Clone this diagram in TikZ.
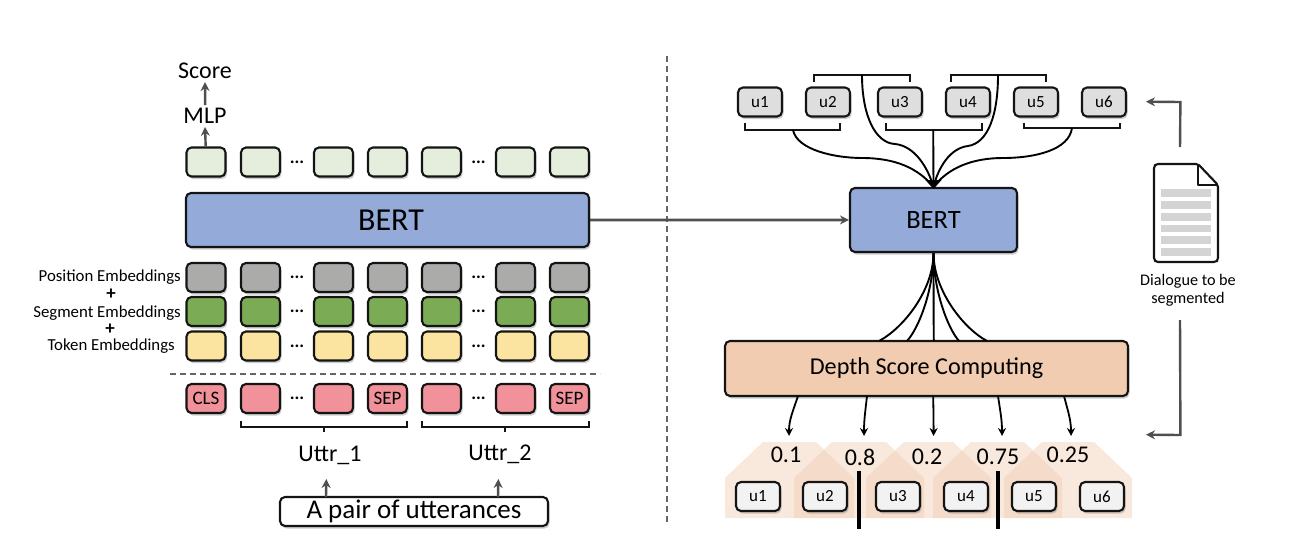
\documentclass[tikz,border=0pt]{standalone}
\usepackage{fontspec}
\setmainfont{Carlito}
\usetikzlibrary{arrows.meta,shadows}
\definecolor{linecol}{HTML}{141414}
\definecolor{grayarrow}{HTML}{4F4F4F}
\definecolor{outcol}{HTML}{E5EEDD}
\definecolor{bertcol}{HTML}{94ABD9}
\definecolor{poscol}{HTML}{ABABA9}
\definecolor{segcol}{HTML}{7CAB55}
\definecolor{tokcol}{HTML}{FBE3A0}
\definecolor{inpcol}{HTML}{F19199}
\definecolor{depthcol}{HTML}{F1CCB0}
\definecolor{housecol}{HTML}{F1CCB1}
\definecolor{utopcol}{HTML}{DEDEDE}
\definecolor{ubotcol}{HTML}{F2F2F2}
\definecolor{doccol}{HTML}{D4D4D4}
\tikzset{
  shade box/.style={draw=linecol,line width=2.1pt,rounded corners=5pt,drop shadow={opacity=.4,shadow xshift=1.5pt,shadow yshift=-2.5pt}},
  cell/.style={shade box,minimum width=39pt,minimum height=29pt,inner sep=0pt},
  ubox/.style={shade box,minimum width=44pt,minimum height=29pt,inner sep=0pt,font=\fontsize{17}{20}\selectfont},
  dots/.style={font=\bfseries\fontsize{18}{20}\selectfont,inner sep=0pt},
  emb/.style={font=\fontsize{16.8}{20}\selectfont,inner sep=0pt},
  txt/.style={font=\fontsize{24}{28}\selectfont,inner sep=3pt},
  garrow/.style={draw=grayarrow,line width=2.4pt,-{Stealth[length=9pt,width=9pt]}},
  barrow/.style={draw=black,line width=1.8pt,-{Stealth[length=8pt,width=8pt]}},
  brace/.style={draw=linecol,line width=2pt},
  fan/.style={draw=black,line width=1.9pt},
}
\begin{document}
\begin{tikzpicture}[x=1pt,y=-1pt]
  \useasboundingbox (0,0) rectangle (1289,535);
  \draw[gray!120,line width=1.3pt,dash pattern=on 6pt off 4pt] (667,56) -- (667,525);
  \draw[gray!120,line width=1.3pt,dash pattern=on 6pt off 4pt] (170,374) -- (600,374);
  \foreach \name/\col/\y in {o/outcol/162,p/poscol/277.5,s/segcol/311.5,t/tokcol/346,c/inpcol/398.5}{
    \foreach \x [count=\i] in {206,260.5,333.5,387.5,441.5,515.5,569.5}
      \node[cell,fill=\col] (\name\i) at (\x,\y) {};
    \node[dots] (\name dl) at (297,\y) {...};
    \node[dots] (\name dr) at (478.5,\y) {...};
  }
  \node[font=\fontsize{19}{22}\selectfont] (cls) at (c1) {CLS};
  \node[font=\fontsize{19}{22}\selectfont] (sepa) at (c4) {SEP};
  \node[font=\fontsize{19}{22}\selectfont] (sepb) at (c7) {SEP};
  \node[txt] (score) at (205,71) {Score};
  \node[txt] (mlp) at (205,116) {MLP};
  \draw[garrow] ([xshift=.2pt]mlp.north) -- (score.south);
  \draw[garrow] ([xshift=-.3pt]o1.north) -- (mlp.south);
  \node[shade box,fill=bertcol,minimum width=403pt,minimum height=54pt,font=\fontsize{32}{38}\selectfont] (bertl) at (387.5,220) {\hspace{7pt}BERT};
  \node[emb,anchor=east] (pos) at (181,277) {Position Embeddings};
  \node[emb,anchor=east] (seg) at (181,313) {Segment Embeddings};
  \node[emb,anchor=east] (tok) at (175,346) {Token Embeddings};
  \node[font=\bfseries\fontsize{19}{22}\selectfont,inner sep=0pt] (plusa) at (111,294) {+};
  \node[font=\bfseries\fontsize{19}{22}\selectfont,inner sep=0pt] (plusb) at (110,329) {+};
  \draw[brace] (241,421) -- (241,427) -- (407,427) -- (407,421) (324,427) -- (324,432);
  \draw[brace] (422,421) -- (422,427) -- (589,427) -- (589,421) (505,427) -- (505,432);
  \node[txt] (uone) at (330,455) {Uttr\_1};
  \node[txt] (utwo) at (500,454) {Uttr\_2};
  \node[shade box,fill=white,minimum width=268pt,minimum height=29pt,inner sep=0pt,font=\fontsize{27}{31}\selectfont] (pair) at (414,511.5) {A pair of utterances};
  \coordinate (pairl) at (326,497);
  \coordinate (pairr) at (498,497);
  \draw[garrow] (pairl) -- (326.3,479);
  \draw[garrow] (pairr) -- (498.3,479);
  \node[shade box,fill=bertcol,minimum width=167pt,minimum height=64pt,font=\fontsize{26.5}{31}\selectfont] (bertr) at (933.5,220) {BERT};
  \draw[garrow,line width=2.8pt] (bertl.east) -- ([yshift=.05pt]bertr.west);
  \foreach \x [count=\i] in {760,828,900,968,1036,1104}
    \node[ubox,fill=utopcol] (top\i) at (\x,102) {u\i};
  \draw[brace] (745,123) -- (745,130) -- (840,130) -- (840,123);
  \draw[brace] (886,123) -- (886,130) -- (982,130) -- (982,123);
  \draw[brace] (1024,123) -- (1024,128) -- (1120,128) -- (1120,123);
  \draw[brace] (814,82) -- (814,75) -- (910,75) -- (910,82);
  \draw[brace] (951,82) -- (951,75) -- (1046,75) -- (1046,82);
  \coordinate (ba) at (793,130);
  \coordinate (bb) at (862,75);
  \coordinate (bc) at (933.2,130);
  \coordinate (bd) at (998,75);
  \coordinate (be) at (1072,128);
  \draw[fan] (ba) .. controls (797,150) and (835,158) .. (862,158) .. controls (895,158) and (918,168) .. (bertr.north);
  \draw[fan] (bb) .. controls (862,115) and (875,143) .. (895,144) .. controls (915,146) and (928,168) .. (bertr.north);
  \draw[fan] (bc) -- (bertr.north);
  \draw[fan] (bd) .. controls (998,115) and (988,143) .. (968,146) .. controls (950,148) and (938,168) .. (bertr.north);
  \draw[fan] (be) .. controls (1069,150) and (1035,158) .. (1003,158) .. controls (972,158) and (948,168) .. (bertr.north);
  \fill[black] (925.5,180) -- (941.5,180) -- (933.5,189) -- cycle;
  \node[shade box,fill=depthcol,minimum width=403pt,minimum height=55pt,font=\fontsize{24.2}{29}\selectfont] (depth) at (926.5,368.5) {Depth Score Computing\hspace{12pt}};
  \foreach \x [count=\i] in {879,907,933.8,959,987}{
    \coordinate (dt\i) at (\x,341);
    \draw[fan] (bertr.south) .. controls (933.5,290) and ({933.5+(\x-933.5)*.55},328) .. (dt\i);
  }
  \foreach \a/\b [count=\i] in {798/789,867/864,933.2/933.6,998/1002,1064/1071}{
    \coordinate (ds\i) at (\a,396);
    \coordinate (de\i) at (\b,436);
    \draw[barrow] (ds\i) .. controls ({\a+(\b-\a)*.6},412) and (\b,420) .. (de\i);
  }
  \foreach \l/\r in {725/854,794/924,866/991,933/1062,1004/1132}
    \fill[housecol,opacity=.45] (\l,478) -- (\l+38,442) -- (\r-38,442) -- (\r,478) -- (\r,518) -- (\l,518) -- cycle;
  \foreach \x/\y/\v/\n in {786/455/0.1/va,860/457/0.8/vb,927/457/0.2/vc,998/457/0.75/vd,1068/455/0.25/ve}
    \node[font=\fontsize{24}{28}\selectfont,inner sep=0pt] (\n) at (\x,\y) {\v};
  \foreach \x [count=\i] in {758,825,898,966,1034,1102}
    \node[ubox,fill=ubotcol] (bot\i) at (\x,496.5) {u\i};
  \draw[black,line width=3.4pt] (859,471) -- (859,529);
  \draw[black,line width=3.4pt] (998,471) -- (998,529);
  \draw[linecol,line width=2.1pt,line join=round,fill=white,rounded corners=2pt] (1198,164) -- (1156,164) -- (1154,166) -- (1154,260) -- (1156,262) -- (1216,262) -- (1218,260) -- (1218,185) -- cycle;
  \draw[linecol,line width=2.1pt,line join=round] (1198,164) -- (1198,185) -- (1218,185);
  \foreach \y in {189,201,213,224.5,236,248}
    \fill[doccol] (1161,\y) rectangle (1211,\y+7.5);
  \node[align=center,font=\fontsize{16.2}{18}\selectfont,inner sep=0pt] (doclabel) at (1188,290) {Dialogue to be\\segmented};
  \coordinate (docup) at (1180,147);
  \coordinate (docdown) at (1180,320);
  \coordinate (uin) at (1146,102);
  \coordinate (uout) at (1146,435);
  \draw[garrow] (docup) -- (1180.4,102) -- ([yshift=.3pt]uin);
  \draw[garrow] (docdown) -- (1180.4,435) -- ([yshift=.3pt]uout);
\end{tikzpicture}
\end{document}
